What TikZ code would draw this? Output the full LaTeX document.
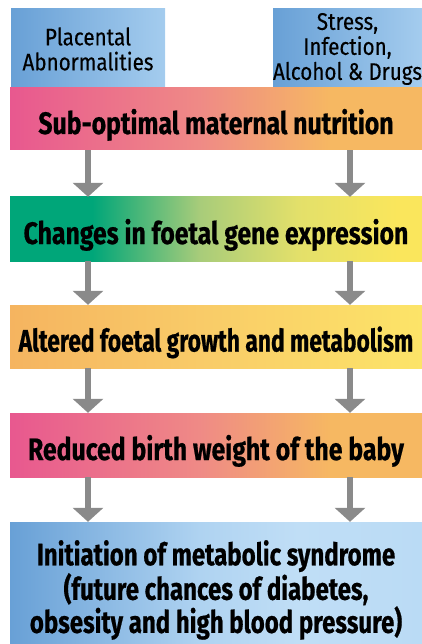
\documentclass[tikz,border=0pt]{standalone}
\usepackage{fontspec}
\setmainfont{Fira Sans}
\newfontfamily\boxfont{Fira Sans}[FakeStretch=0.8, BoldFeatures={FakeBold=0.6}]
\newfontfamily\boxfontA{Fira Sans}[FakeStretch=0.735, BoldFeatures={FakeBold=0.6}]
\newfontfamily\boxfontB{Fira Sans}[FakeStretch=0.775, BoldFeatures={FakeBold=0.6}]
\newfontfamily\topfont{Fira Sans}[FakeStretch=0.86, FakeBold=0.3]
\usetikzlibrary{arrows.meta}
\definecolor{pinkA}{HTML}{E8588F}
\definecolor{salmonA}{HTML}{EF8A86}
\definecolor{orangeA}{HTML}{F6B862}
\definecolor{greenA}{HTML}{00A679}
\definecolor{lgreenA}{HTML}{A8CC7A}
\definecolor{ygreenA}{HTML}{E3E06A}
\definecolor{yellowA}{HTML}{FAE65C}
\definecolor{orangeB}{HTML}{F5B460}
\definecolor{orangeC}{HTML}{F9CC68}
\definecolor{yellowB}{HTML}{FCE468}
\definecolor{blueA}{HTML}{68A0D6}
\definecolor{blueB}{HTML}{AFD3F1}
\definecolor{blueC}{HTML}{C0DEF6}
\definecolor{blueD}{HTML}{BADBF5}
\definecolor{blueT}{HTML}{A4CCEE}
\definecolor{arrowgray}{HTML}{8A8A8A}
\pgfdeclarehorizontalshading{shPink}{100bp}{color(0bp)=(pinkA); color(25bp)=(pinkA); color(48bp)=(salmonA); color(64bp)=(orangeA); color(100bp)=(orangeA)}
\pgfdeclarehorizontalshading{shGreen}{100bp}{color(0bp)=(greenA); color(25bp)=(greenA); color(35bp)=(greenA); color(48bp)=(lgreenA); color(60bp)=(ygreenA); color(72bp)=(yellowA); color(100bp)=(yellowA)}
\pgfdeclarehorizontalshading{shOrange}{100bp}{color(0bp)=(orangeB); color(25bp)=(orangeB); color(49bp)=(orangeC); color(75bp)=(yellowB); color(100bp)=(yellowB)}
\pgfdeclarehorizontalshading{shBlue}{100bp}{color(0bp)=(blueA); color(25bp)=(blueA); color(48bp)=(blueB); color(60bp)=(blueC); color(75bp)=(blueD); color(100bp)=(blueD)}
\tikzset{
  mainbox/.style={minimum width=412pt, inner sep=0pt, text height=30pt, text depth=0pt,
    font=\boxfont\fontsize{31}{31}\selectfont\bfseries, align=center},
  topbox/.style={inner sep=0pt, left color=blueA, right color=blueT, align=center,
    font=\topfont\fontsize{24}{25}\selectfont},
  flowarrow/.style={draw=arrowgray, line width=6pt, -{Triangle[width=30pt,length=14pt]}}
}
\begin{document}
\begin{tikzpicture}[x=1pt,y=-1pt]
\useasboundingbox (0,0) rectangle (422,644);
\node[topbox, minimum width=154pt, minimum height=80pt] (pl) at (88,49) {Placental\\Abnormalities};
\node[topbox, minimum width=149pt, minimum height=80pt] (st) at (347.5,49) {Stress,\\Infection,\\Alcohol \& Drugs};
\node[mainbox, shading=shPink, minimum height=62pt] (b1) at (216,119) {Sub-optimal maternal nutrition};
\node[mainbox, shading=shGreen, minimum height=64pt] (b2) at (216,229) {Changes in foetal gene expression};
\node[mainbox, shading=shOrange, minimum height=63pt, font=\boxfontA\fontsize{31}{31}\selectfont\bfseries] (b3) at (216,336.5) {Altered foetal growth and metabolism};
\node[mainbox, shading=shPink, minimum height=64pt] (b4) at (216,445) {Reduced birth weight of the baby};
\node[mainbox, shading=shBlue, minimum height=122pt, text height=, text depth=, font=\boxfontB\fontsize{31}{31}\selectfont\bfseries] (b5) at (216,583) {\rule{0pt}{39pt}Initiation of metabolic syndrome\\(future chances of diabetes,\\obsesity and high blood pressure)};
\coordinate (L) at (88,0);
\coordinate (R) at (350,0);
\draw[flowarrow] (b1.south -| L) -- (b2.north -| L);
\draw[flowarrow] (b1.south -| R) -- (b2.north -| R);
\draw[flowarrow] (b2.south -| L) -- (b3.north -| L);
\draw[flowarrow] (b2.south -| R) -- (b3.north -| R);
\draw[flowarrow] (b3.south -| L) -- (b4.north -| L);
\draw[flowarrow] (b3.south -| R) -- (b4.north -| R);
\draw[flowarrow] (b4.south -| L) -- (b5.north -| L);
\draw[flowarrow] (b4.south -| R) -- (b5.north -| R);
\end{tikzpicture}
\end{document}
